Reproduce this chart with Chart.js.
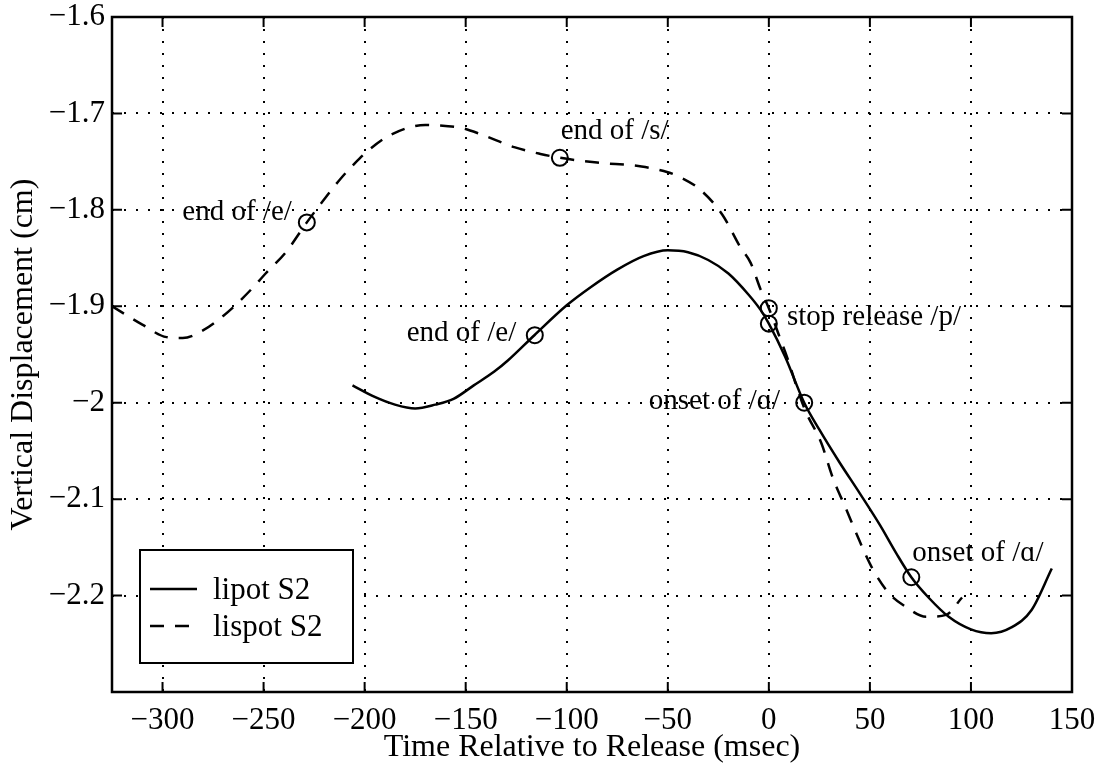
<!DOCTYPE html>
<html>
<head>
<meta charset="utf-8">
<title>Vertical Displacement</title>
<script src="https://cdn.jsdelivr.net/npm/chart.js@4.4.1/dist/chart.umd.min.js"></script>
<style>
  html, body { margin: 0; padding: 0; background: #fff; }
  canvas { display: block; }
</style>
</head>
<body>
<canvas id="displacementChart" width="1100" height="769"></canvas>
<script>
// lipot S2 trace (msec, cm)
const timeLipot = [-206, -195, -185, -175, -165, -156, -146, -136, -129, -116, -100, -88, -75, -62, -50, -40, -30, -20, -10, -4, 0, 8, 17.5, 25, 35, 45, 55, 63, 70.5, 79, 89, 100, 110, 120, 130, 140];
const dispLipot = [-1.982, -1.994, -2.002, -2.006, -2.002, -1.996, -1.982, -1.968, -1.956, -1.930, -1.899, -1.880, -1.862, -1.848, -1.842, -1.844, -1.852, -1.866, -1.888, -1.904, -1.918, -1.952, -2.000, -2.028, -2.062, -2.094, -2.127, -2.156, -2.181, -2.202, -2.222, -2.235, -2.239, -2.233, -2.215, -2.172];

// lispot S2 trace (msec, cm)
const timeLispot = [-325, -318, -310, -298, -290, -280, -270, -264, -255, -249, -239, -228.6, -220, -212, -205, -198, -187, -170, -160, -152, -142, -126, -113, -103.4, -85, -63, -50, -44, -34, -23, -14, -9, -4, 0, 5, 9.4, 14, 18, 26, 31.5, 38.4, 44.8, 51, 59.6, 68, 77.8, 87.7, 95.6];
const dispLispot = [-1.900, -1.909, -1.919, -1.932, -1.933, -1.925, -1.910, -1.899, -1.880, -1.866, -1.844, -1.813, -1.789, -1.768, -1.752, -1.738, -1.722, -1.712, -1.713, -1.715, -1.722, -1.735, -1.742, -1.746, -1.751, -1.755, -1.761, -1.766, -1.779, -1.805, -1.839, -1.855, -1.883, -1.902, -1.930, -1.955, -1.985, -2.008, -2.042, -2.077, -2.111, -2.143, -2.171, -2.198, -2.212, -2.222, -2.220, -2.202];

// marked events on each trace
const eventTimeLipot = [-115.8, 0, 17.5, 70.5];
const eventDispLipot = [-1.930, -1.918, -2.000, -2.181];
const eventTimeLispot = [-228.6, -103.4, 0];
const eventDispLispot = [-1.813, -1.746, -1.902];

// event labels, anchored in data units
const noteText = ['end of /e/', 'end of /s/', 'stop release /p/', 'end of /e/', 'onset of /ɑ/', 'onset of /ɑ/'];
const noteTime = [-236, -103, 9, -125, 5.5, 71];
const noteDisp = [-1.803, -1.719, -1.912, -1.928, -1.999, -2.156];
const noteAlign = ['right', 'left', 'left', 'right', 'right', 'left'];

// axis ticks
const xTicks = [-300, -250, -200, -150, -100, -50, 0, 50, 100, 150];
const yTicks = [-2.3, -2.2, -2.1, -2, -1.9, -1.8, -1.7, -1.6];

const FONT = '"Liberation Serif", "Times New Roman", serif';

function toPoints(xs, ys) {
    return xs.map((x, i) => ({ x: x, y: ys[i] }));
}

function fmt(v) {
    const r = Math.round(v * 10) / 10;
    return (r < 0 ? '\u2212' : '') + Math.abs(r);
}

// keep the plot box fixed: no extra room reserved for overhanging tick labels
function noOverhang(s) {
    s.paddingTop = 0;
    s.paddingBottom = 0;
    s.paddingLeft = 0;
    s.paddingRight = 0;
}

// box, inward ticks, event labels and legend, MATLAB style
const figureDecor = {
    id: 'figureDecor',
    afterDraw(chart) {
        const ctx = chart.ctx;
        const { left, right, top, bottom } = chart.chartArea;
        const xs = chart.scales.x;
        const ys = chart.scales.y;

        ctx.save();
        ctx.strokeStyle = '#000';
        ctx.lineWidth = 2.5;
        ctx.strokeRect(left, top, right - left, bottom - top);

        ctx.lineWidth = 2;
        ctx.beginPath();
        xTicks.forEach(v => {
            const px = xs.getPixelForValue(v);
            ctx.moveTo(px, bottom); ctx.lineTo(px, bottom - 10);
            ctx.moveTo(px, top); ctx.lineTo(px, top + 10);
        });
        yTicks.forEach(v => {
            const py = ys.getPixelForValue(v);
            ctx.moveTo(left, py); ctx.lineTo(left + 10, py);
            ctx.moveTo(right, py); ctx.lineTo(right - 10, py);
        });
        ctx.stroke();

        // event labels
        ctx.fillStyle = '#000';
        ctx.font = '29px ' + FONT;
        ctx.textBaseline = 'middle';
        noteText.forEach((t, i) => {
            ctx.textAlign = noteAlign[i];
            ctx.fillText(t, xs.getPixelForValue(noteTime[i]), ys.getPixelForValue(noteDisp[i]));
        });

        // legend box in lower left corner
        const bx = left + 28, by = bottom - 142, bw = 213, bh = 113;
        ctx.fillStyle = '#fff';
        ctx.fillRect(bx, by, bw, bh);
        ctx.lineWidth = 2;
        ctx.strokeRect(bx, by, bw, bh);
        ctx.font = '31px ' + FONT;
        ctx.textAlign = 'left';
        ctx.fillStyle = '#000';
        [0, 1].forEach(i => {
            const ds = chart.data.datasets[i];
            const ly = by + 39 + i * 37;
            ctx.save();
            ctx.lineWidth = ds.borderWidth;
            ctx.setLineDash(ds.borderDash || []);
            ctx.beginPath();
            ctx.moveTo(bx + 10, ly);
            ctx.lineTo(bx + 57, ly);
            ctx.stroke();
            ctx.restore();
            ctx.fillText(ds.label, bx + 73, ly + 2);
        });
        ctx.restore();
    }
};

const ctx = document.getElementById('displacementChart').getContext('2d');

new Chart(ctx, {
    type: 'scatter',
    data: {
        datasets: [
            {
                label: 'lipot S2',
                data: toPoints(timeLipot, dispLipot),
                showLine: true,
                borderColor: '#000',
                borderWidth: 2.5,
                pointRadius: 0,
                cubicInterpolationMode: 'monotone'
            },
            {
                label: 'lispot S2',
                data: toPoints(timeLispot, dispLispot),
                showLine: true,
                borderColor: '#000',
                borderWidth: 2.5,
                borderDash: [14, 11],
                pointRadius: 0,
                cubicInterpolationMode: 'monotone'
            },
            {
                label: 'lipot events',
                data: toPoints(eventTimeLipot, eventDispLipot),
                showLine: false,
                pointStyle: 'circle',
                pointRadius: 8,
                pointBorderWidth: 2,
                borderColor: '#000',
                backgroundColor: 'rgba(0,0,0,0)'
            },
            {
                label: 'lispot events',
                data: toPoints(eventTimeLispot, eventDispLispot),
                showLine: false,
                pointStyle: 'circle',
                pointRadius: 8,
                pointBorderWidth: 2,
                borderColor: '#000',
                backgroundColor: 'rgba(0,0,0,0)'
            }
        ]
    },
    options: {
        responsive: false,
        animation: false,
        devicePixelRatio: 1,
        layout: {
            autoPadding: false,
            padding: { top: 17, right: 28, left: 0, bottom: 0 }
        },
        scales: {
            x: {
                type: 'linear',
                position: 'bottom',
                min: -325,
                max: 150,
                afterBuildTicks: s => { s.ticks = xTicks.map(v => ({ value: v })); },
                afterFit: s => { s.height = 77; noOverhang(s); },
                ticks: {
                    color: '#000',
                    font: { family: FONT, size: 31 },
                    padding: 10,
                    maxRotation: 0,
                    autoSkip: false,
                    callback: v => fmt(v)
                },
                grid: { color: '#000', lineWidth: 2, drawTicks: false },
                border: { display: false, dash: [2, 10] },
                title: {
                    display: true,
                    text: 'Time Relative to Release (msec)',
                    color: '#000',
                    font: { family: FONT, size: 32 },
                    padding: { top: 0, bottom: 2 }
                }
            },
            y: {
                type: 'linear',
                min: -2.3,
                max: -1.6,
                afterBuildTicks: s => { s.ticks = yTicks.map(v => ({ value: v })); },
                afterFit: s => { s.width = 112; noOverhang(s); },
                ticks: {
                    color: '#000',
                    font: { family: FONT, size: 31 },
                    padding: 7,
                    autoSkip: false,
                    callback: v => (Math.abs(v + 2.3) < 1e-6 ? '' : fmt(v))
                },
                grid: { color: '#000', lineWidth: 2, drawTicks: false },
                border: { display: false, dash: [2, 10] },
                title: {
                    display: true,
                    text: 'Vertical Displacement (cm)',
                    color: '#000',
                    font: { family: FONT, size: 32 },
                    padding: { top: 4, bottom: 0 }
                }
            }
        },
        plugins: {
            legend: { display: false },
            tooltip: { enabled: false }
        }
    },
    plugins: [figureDecor]
});
</script>
</body>
</html>
